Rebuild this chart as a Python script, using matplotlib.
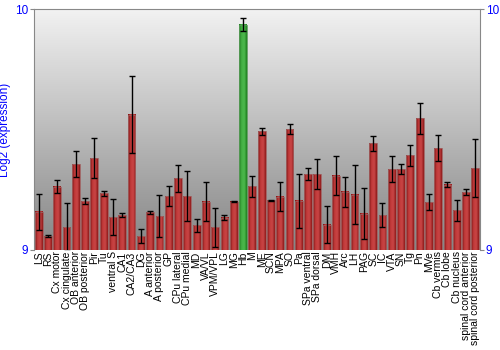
import numpy as np
import matplotlib
matplotlib.use('Agg')
import matplotlib.pyplot as plt
from matplotlib.colors import LinearSegmentedColormap

plt.rcParams['font.family'] = ['Liberation Sans', 'DejaVu Sans']

# Brain regions and log2 expression values
regions = ['LS', 'RS', 'Cx motor', 'Cx cingulate', 'OB anterior', 'OB posterior', 'Pir', 'Tu',
           'ventral S', 'CA1', 'CA2/CA3', 'DG', 'A anterior', 'A posterior', 'GP', 'CPu lateral',
           'CPu medial', 'MD', 'VA/VL', 'VPM/VPL', 'LG', 'MG', 'Hb', 'M', 'ME', 'SCN', 'MPA', 'SO',
           'Pa', 'SPa ventral', 'SPa dorsal', 'DM', 'VMH', 'Arc', 'LH', 'PAG', 'SC', 'IC', 'VTA',
           'SN', 'Tg', 'Pn', 'MVe', 'Cb vermis', 'Cb lobe', 'Cb nucleus', 'spinal cord anterior',
           'spinal cord posterior']
values = [9.159, 9.058, 9.263, 9.095, 9.357, 9.203, 9.380, 9.235,
          9.137, 9.145, 9.562, 9.058, 9.156, 9.140, 9.224, 9.297,
          9.224, 9.102, 9.200, 9.094, 9.134, 9.200, 9.936, 9.264, 9.492, 9.207, 9.221, 9.501,
          9.205, 9.315, 9.315, 9.105, 9.308, 9.241, 9.230, 9.151, 9.443, 9.144, 9.335,
          9.336, 9.393, 9.546, 9.199, 9.423, 9.271, 9.165, 9.239,
          9.339]
errors = [0.075, 0.003, 0.028, 0.100, 0.054, 0.013, 0.083, 0.010,
          0.076, 0.007, 0.160, 0.028, 0.007, 0.087, 0.041, 0.057,
          0.105, 0.026, 0.080, 0.081, 0.010, 0.003, 0.028, 0.043, 0.015, 0.002, 0.061, 0.021,
          0.112, 0.024, 0.061, 0.078, 0.082, 0.062, 0.124, 0.104, 0.032, 0.049, 0.054,
          0.019, 0.044, 0.066, 0.034, 0.055, 0.010, 0.044, 0.012,
          0.120]
highlight = 'Hb'

ymin, ymax = 9, 10
blue = '#0000ff'

red_cmap = LinearSegmentedColormap.from_list('redbar', ['#7a1414', '#c23a3a', '#c84545', '#8f1a1a'])
green_cmap = LinearSegmentedColormap.from_list('greenbar', ['#1f7a1f', '#44b044', '#4cb84c', '#208020'])

fig = plt.figure(figsize=(5, 3.5), dpi=100)
ax = fig.add_axes([0.068, 0.286, 0.892, 0.688])

n = len(regions)
ax.set_xlim(-0.5, n - 0.5)
ax.set_ylim(ymin, ymax)

# grey vertical gradient background
bg = np.linspace(0, 1, 256).reshape(-1, 1)
bg_cmap = LinearSegmentedColormap.from_list('bg', ['#858585', '#f2f2f2'])
ax.imshow(bg, extent=(-0.5, n - 0.5, ymin, ymax), origin='lower', aspect='auto',
          cmap=bg_cmap, zorder=0)

# bars with horizontal shading
grad = np.linspace(0, 1, 64).reshape(1, -1)
w = 0.84
for i, (name, v) in enumerate(zip(regions, values)):
    cmap = green_cmap if name == highlight else red_cmap
    ax.imshow(grad, extent=(i - w / 2, i + w / 2, ymin, v), origin='lower', aspect='auto',
              cmap=cmap, zorder=2)
    edge = '#5a9a5a' if name == highlight else '#a06060'
    ax.bar(i, v - ymin, bottom=ymin, width=w, facecolor='none', edgecolor=edge,
           linewidth=0.6, zorder=3)

ax.errorbar(range(n), values, yerr=errors, fmt='none', ecolor='black', elinewidth=1,
            capsize=2.5, capthick=1, zorder=4)

ax.set_xticks(range(n))
ax.set_xticklabels(regions, rotation=90, fontsize=7.5)
ax.tick_params(axis='x', length=0, pad=1)

ax.set_yticks([9, 10])
ax.set_yticklabels(['9', '10'], color=blue, fontsize=8.5)
ax.tick_params(axis='y', colors='#888888', labelcolor=blue, length=3, direction='out',
               right=True, labelright=True, pad=1)
ax.set_ylabel('Log2 (expression)', color=blue, fontsize=8.5, labelpad=3)

for s in ['left', 'right', 'top']:
    ax.spines[s].set_color('#888888')
ax.spines['bottom'].set_visible(False)

fig.savefig('out.png', dpi=100)
